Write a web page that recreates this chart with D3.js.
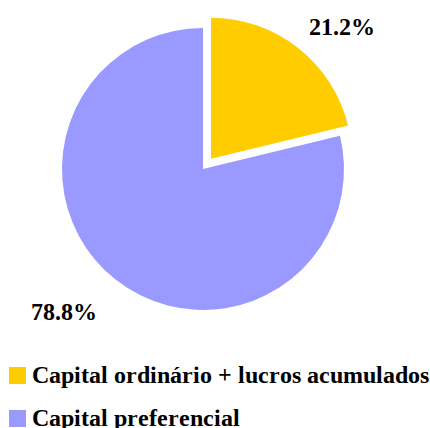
<!DOCTYPE html>
<html>
<head>
<meta charset="utf-8">
<script src="https://cdn.jsdelivr.net/npm/d3@7"></script>
<style>
  @font-face {
    font-family: "ChartSerif";
    src: local("Liberation Serif Bold"), local("LiberationSerif-Bold");
    font-weight: 700;
  }
  .serif-bold {
    font-family: "ChartSerif", "Liberation Serif", serif;
    font-weight: 700;
    font-size: 24px;
  }
</style>
</head>
<body style="margin:0;background:#fff">
<svg id="chart" width="430" height="428"></svg>
<script>
// Capital structure shares (percent)
const categories = ["Capital ordinário + lucros acumulados", "Capital preferencial"];
const values = [21.2, 78.8];
const colors = ["#FFCC00", "#9999FF"];
const labels = ["21.2%", "78.8%"];
const exploded = [true, false];

const svg = d3.select("#chart");
const cx = 203, cy = 169, radius = 141, explode = 13, labelRadius = 171;

const pie = d3.pie().sort(null).value(d => d)(values);
const arc = d3.arc().innerRadius(0).outerRadius(radius);

const g = svg.append("g").attr("transform", `translate(${cx},${cy})`);

g.selectAll("path.slice")
  .data(pie)
  .join("path")
  .attr("class", "slice")
  .attr("d", arc)
  .attr("fill", (d, i) => colors[i])
  .attr("transform", (d, i) => {
    if (!exploded[i]) return null;
    const a = (d.startAngle + d.endAngle) / 2;
    return `translate(${Math.sin(a) * explode},${-Math.cos(a) * explode})`;
  });

// Percentage labels placed just outside the pie along each slice's mid angle
g.selectAll("text.pct")
  .data(pie)
  .join("text")
  .attr("class", "pct serif-bold")
  .each(function(d, i) {
    const a = (d.startAngle + d.endAngle) / 2;
    const x = Math.sin(a) * labelRadius;
    const y = -Math.cos(a) * labelRadius;
    d3.select(this)
      .attr("x", x)
      .attr("y", y)
      .attr("text-anchor", x >= 0 ? "start" : "end")
      .attr("dy", y < 0 ? "0" : "0.68em")
      .text(labels[i]);
  });

// Legend
const legend = svg.append("g").attr("transform", "translate(9,367)");
const rows = legend.selectAll("g.row")
  .data(categories)
  .join("g")
  .attr("class", "row")
  .attr("transform", (d, i) => `translate(0,${i * 43})`);

rows.append("rect")
  .attr("width", 17).attr("height", 17)
  .attr("fill", (d, i) => colors[i]);

rows.append("text")
  .attr("class", "serif-bold")
  .attr("x", 23).attr("y", 15.5)
  .text(d => d);
</script>
</body>
</html>
